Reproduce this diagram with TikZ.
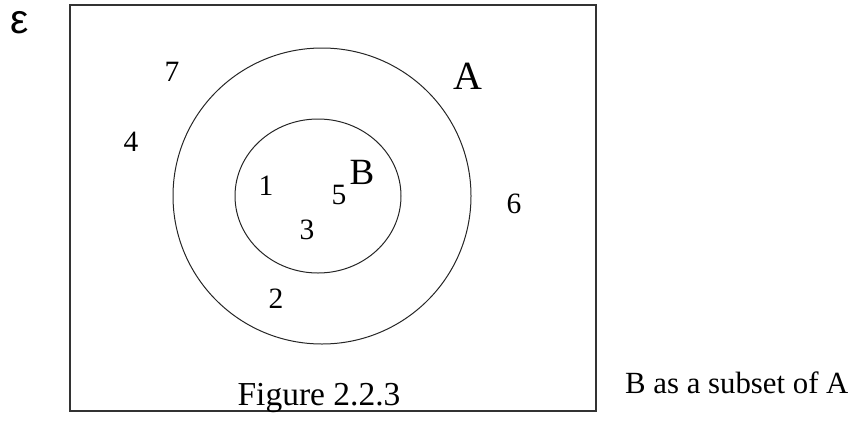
\documentclass[tikz,border=0pt]{standalone}
\usepackage{fontspec}
\setmainfont{Liberation Serif}
\newfontfamily\epsfont{Liberation Sans}
\begin{document}
\begin{tikzpicture}[x=1pt,y=-1pt,
  lbl/.style={inner sep=0pt, font=\fontsize{29.5}{32}\selectfont},
  setlbl/.style={inner sep=0pt},
  setline/.style={line width=1pt, draw=black!85}]
\useasboundingbox (0,0) rectangle (856,421);
\draw[line width=1.4pt, draw=black!80] (70,5) rectangle (596,411);
\draw[setline] (322,196) ellipse [x radius=149, y radius=148];
\draw[setline] (318,196) ellipse [x radius=83, y radius=77];
\node[setlbl, font=\epsfont\fontsize{41}{44}\selectfont] (eps) at (20,23) {ε};
\node[setlbl, font=\fontsize{40}{44}\selectfont] (A) at (468,76) {A};
\node[setlbl, font=\fontsize{37}{40}\selectfont] (B) at (362,172) {B};
\node[lbl] (n7) at (172,72) {7};
\node[lbl] (n4) at (131,142) {4};
\node[lbl] (n1) at (266,186) {1};
\node[lbl] (n5) at (339,195) {5};
\node[lbl] (n3) at (307,230) {3};
\node[lbl] (n2) at (276,299) {2};
\node[lbl] (n6) at (514,204) {6};
\node[setlbl, anchor=base, font=\fontsize{33.5}{36}\selectfont] (fig) at (319,405) {Figure 2.2.3};
\node[setlbl, anchor=base west, font=\fontsize{30.8}{34}\selectfont] (cap) at (625,393) {B as a subset of A};
\end{tikzpicture}
\end{document}
